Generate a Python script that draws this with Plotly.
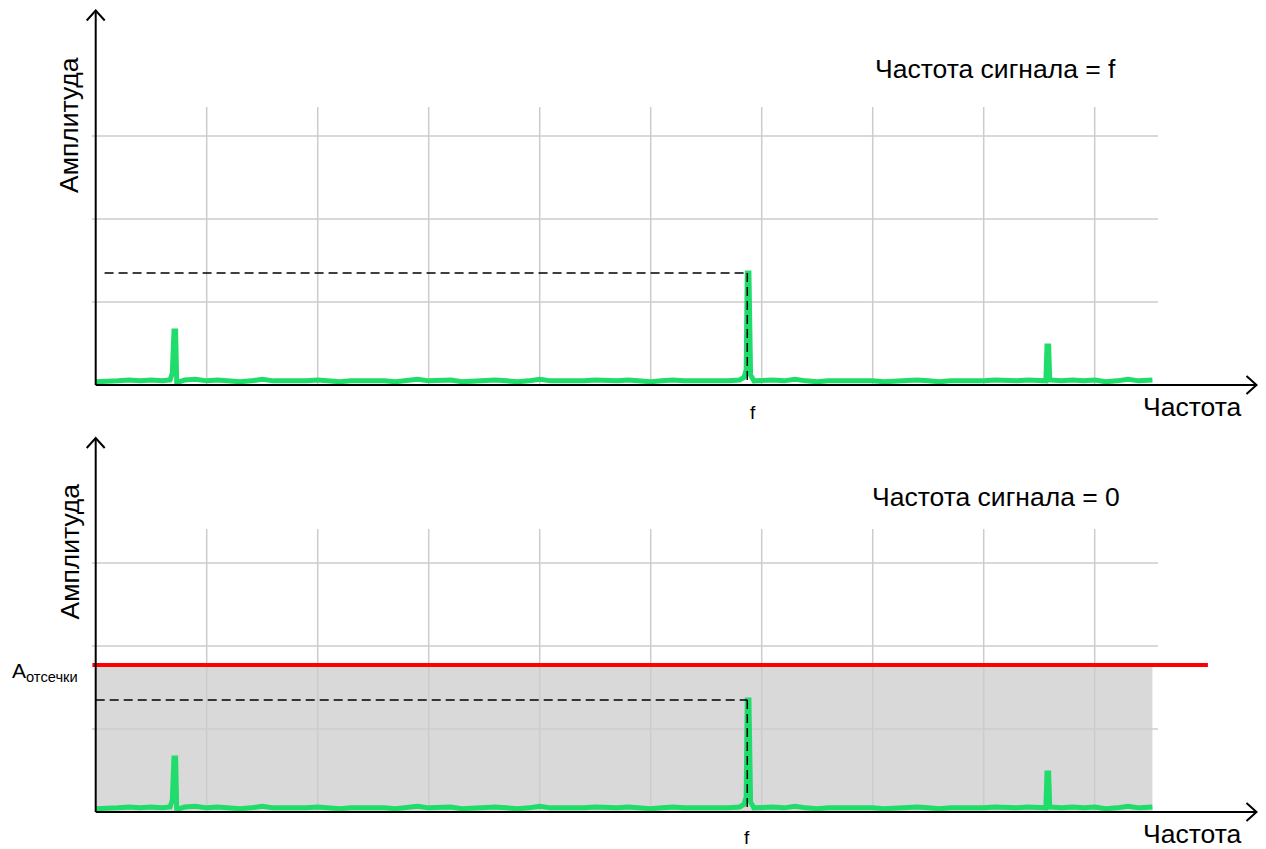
import plotly.graph_objects as go

# ---------------- data ----------------
freq = [0.0, 0.1, 0.2, 0.3, 0.4, 0.5, 0.6, 0.67, 0.69, 0.705, 0.72, 0.73, 0.8, 0.9,
        1.0, 1.1, 1.2, 1.3, 1.4, 1.5, 1.6, 1.7, 1.8, 1.9, 2.0, 2.1, 2.2, 2.3, 2.4, 2.5,
        2.6, 2.7, 2.8, 2.9, 3.0, 3.1, 3.2, 3.3, 3.4, 3.5, 3.6, 3.7, 3.8, 3.9, 4.0, 4.1,
        4.2, 4.3, 4.4, 4.5, 4.6, 4.7, 4.8, 4.9, 5.0, 5.1, 5.2, 5.3, 5.4, 5.5, 5.6, 5.7,
        5.8, 5.84, 5.86, 5.87, 5.885, 5.9, 5.93, 6.0, 6.1, 6.2, 6.3, 6.4, 6.5, 6.6, 6.7,
        6.8, 6.9, 7.0, 7.1, 7.2, 7.3, 7.4, 7.5, 7.6, 7.7, 7.8, 7.9, 8.0, 8.1, 8.2, 8.3,
        8.4, 8.5, 8.56, 8.57, 8.585, 8.595, 8.7, 8.8, 8.9, 9.0, 9.1, 9.2, 9.3, 9.4, 9.52]
amplitude = [0.04, 0.04, 0.05, 0.06, 0.05, 0.06, 0.05, 0.06, 0.14, 0.65, 0.65, 0.03, 0.06, 0.07,
             0.05, 0.06, 0.05, 0.04, 0.05, 0.07, 0.05, 0.05, 0.04, 0.05, 0.06, 0.05, 0.04, 0.05, 0.05, 0.06,
             0.05, 0.04, 0.05, 0.07, 0.05, 0.05, 0.06, 0.04, 0.05, 0.05, 0.06, 0.05, 0.04, 0.05, 0.07, 0.05,
             0.05, 0.04, 0.05, 0.06, 0.05, 0.05, 0.06, 0.05, 0.04, 0.05, 0.06, 0.05, 0.05, 0.04, 0.05, 0.05,
             0.06, 0.09, 0.18, 1.35, 1.35, 0.12, 0.05, 0.06, 0.06, 0.05, 0.07, 0.05, 0.04, 0.05, 0.05,
             0.06, 0.05, 0.05, 0.04, 0.05, 0.05, 0.06, 0.05, 0.04, 0.05, 0.05, 0.04, 0.05, 0.06, 0.05, 0.05,
             0.06, 0.05, 0.05, 0.47, 0.47, 0.06, 0.05, 0.06, 0.05, 0.06, 0.04, 0.05, 0.07, 0.05, 0.06]

signal_freq = 5.87        # "f"
signal_amp = 1.35
cutoff_amp = 1.77         # A отсечки
grid_x = [1, 2, 3, 4, 5, 6, 7, 8, 9]
grid_y = [1, 2, 3]
grid_x_end = 9.57
grid_y_top = [3.35, 3.41]

titles = ["Частота сигнала = f", "Частота сигнала = 0"]
x_label = "Частота"
y_label = "Амплитуда"
tick_label = "f"
cutoff_label = "A<sub>отсечки</sub>"

# ---------------- layout helpers ----------------
W, H = 1266, 849
X0_PX, X_UNIT = 95.7, 111.0
Y_UNIT = 83.0
AXIS_PX = [385.0, 812.0]
SPLIT_PX = 424.0


def pxx(p):
    return p / W


def pxy(p):
    return 1 - p / H


GREEN = "#1fdc6b"
FONT = "Liberation Sans, Arial, sans-serif"
TXT = 26.5

fig = go.Figure()
shapes = []
annotations = []

panels = [("x", "y"), ("x2", "y2")]

for i, (xa, ya) in enumerate(panels):
    axis_px = AXIS_PX[i]
    # gray region below cutoff (bottom panel only)
    if i == 1:
        shapes.append(dict(type="rect", xref=xa, yref=ya, x0=0, x1=9.52, y0=0, y1=cutoff_amp,
                           fillcolor="#d9d9d9", line=dict(width=0), layer="below"))
    # grid
    for gx in grid_x:
        shapes.append(dict(type="line", xref=xa, yref=ya, x0=gx, x1=gx, y0=0, y1=grid_y_top[i],
                           line=dict(color="#cccccc", width=1.5), layer="below"))
    for gy in grid_y:
        shapes.append(dict(type="line", xref=xa, yref=ya, x0=-0.035, x1=grid_x_end, y0=gy, y1=gy,
                           line=dict(color="#cccccc", width=1.5), layer="below"))

    # spectrum
    fig.add_trace(go.Scatter(x=freq, y=amplitude, mode="lines", xaxis=xa, yaxis=ya,
                             line=dict(color=GREEN, width=5), showlegend=False,
                             hoverinfo="skip"))

    # dashed guides
    x_start = 0.08 if i == 0 else 0.0
    shapes.append(dict(type="line", xref=xa, yref=ya, x0=x_start, x1=signal_freq,
                       y0=signal_amp, y1=signal_amp,
                       line=dict(color="black", width=1.5, dash="9px,5px"), layer="above"))
    shapes.append(dict(type="line", xref=xa, yref=ya, x0=signal_freq, x1=signal_freq,
                       y0=signal_amp, y1=0,
                       line=dict(color="black", width=1.5, dash="9px,5px"), layer="above"))

    if i == 1:
        shapes.append(dict(type="line", xref=xa, yref=ya, x0=-0.03, x1=10.02,
                           y0=cutoff_amp, y1=cutoff_amp,
                           line=dict(color="#ff0000", width=4), layer="above"))

    # axes with open arrowheads
    y_tip = (axis_px - (10.5 if i == 0 else 438)) / Y_UNIT
    x_tip = (1256.5 - X0_PX) / X_UNIT
    axis_line = dict(color="black", width=2)
    shapes.append(dict(type="line", xref=xa, yref=ya, x0=0, x1=0, y0=0, y1=y_tip,
                       line=axis_line, layer="above"))
    shapes.append(dict(type="line", xref=xa, yref=ya, x0=0, x1=x_tip, y0=0, y1=0,
                       line=axis_line, layer="above"))
    shapes.append(dict(type="path", xref=xa, yref=ya, xsizemode="pixel", ysizemode="pixel",
                       xanchor=0, yanchor=y_tip, path="M -9,-10 L 0,0 L 9,-10",
                       line=axis_line, layer="above"))
    shapes.append(dict(type="path", xref=xa, yref=ya, xsizemode="pixel", ysizemode="pixel",
                       xanchor=x_tip, yanchor=0, path="M -10,9 L 0,0 L -10,-9",
                       line=axis_line, layer="above"))

    # texts
    title_y = [69, 497.5][i]
    title_x = [873, 870][i]
    annotations.append(dict(x=pxx(title_x), y=pxy(title_y), xref="paper", yref="paper",
                            text=titles[i], showarrow=False, xanchor="left", yanchor="middle",
                            font=dict(family=FONT, size=TXT, color="black")))
    annotations.append(dict(x=pxx(1141), y=pxy([407, 834][i]), xref="paper", yref="paper",
                            text=x_label, showarrow=False, xanchor="left", yanchor="middle",
                            font=dict(family=FONT, size=TXT, color="black")))
    annotations.append(dict(x=pxx(69), y=pxy([125, 551.5][i]), xref="paper", yref="paper",
                            text=y_label, showarrow=False, xanchor="center", yanchor="middle",
                            textangle=-90,
                            font=dict(family=FONT, size=TXT, color="black")))
    annotations.append(dict(x=pxx([752.5, 747.3][i]), y=pxy([412, 837][i]), xref="paper",
                            yref="paper", text=tick_label, showarrow=False,
                            xanchor="center", yanchor="middle",
                            font=dict(family=FONT, size=19, color="black")))

annotations.append(dict(x=pxx(10), y=pxy(672), xref="paper", yref="paper",
                        text=cutoff_label, showarrow=False, xanchor="left", yanchor="middle",
                        font=dict(family=FONT, size=21, color="black")))

x_range = [(0 - X0_PX) / X_UNIT, (W - X0_PX) / X_UNIT]
axis_common = dict(showgrid=False, zeroline=False, showticklabels=False, ticks="",
                   showline=False, fixedrange=True)

fig.update_layout(
    width=W, height=H,
    margin=dict(l=0, r=0, t=0, b=0),
    paper_bgcolor="white", plot_bgcolor="rgba(0,0,0,0)",
    xaxis=dict(domain=[0, 1], range=x_range, anchor="y", **axis_common),
    yaxis=dict(domain=[pxy(SPLIT_PX), 1],
               range=[(AXIS_PX[0] - SPLIT_PX) / Y_UNIT, AXIS_PX[0] / Y_UNIT],
               anchor="x", **axis_common),
    xaxis2=dict(domain=[0, 1], range=x_range, anchor="y2", **axis_common),
    yaxis2=dict(domain=[0, pxy(SPLIT_PX)],
                range=[(AXIS_PX[1] - H) / Y_UNIT, (AXIS_PX[1] - SPLIT_PX) / Y_UNIT],
                anchor="x2", **axis_common),
    shapes=shapes,
    annotations=annotations,
    showlegend=False,
)

fig.write_html("out.html", config={"displayModeBar": False, "staticPlot": True},
               post_script="document.body.style.margin='0px';document.body.style.overflow='hidden';")
